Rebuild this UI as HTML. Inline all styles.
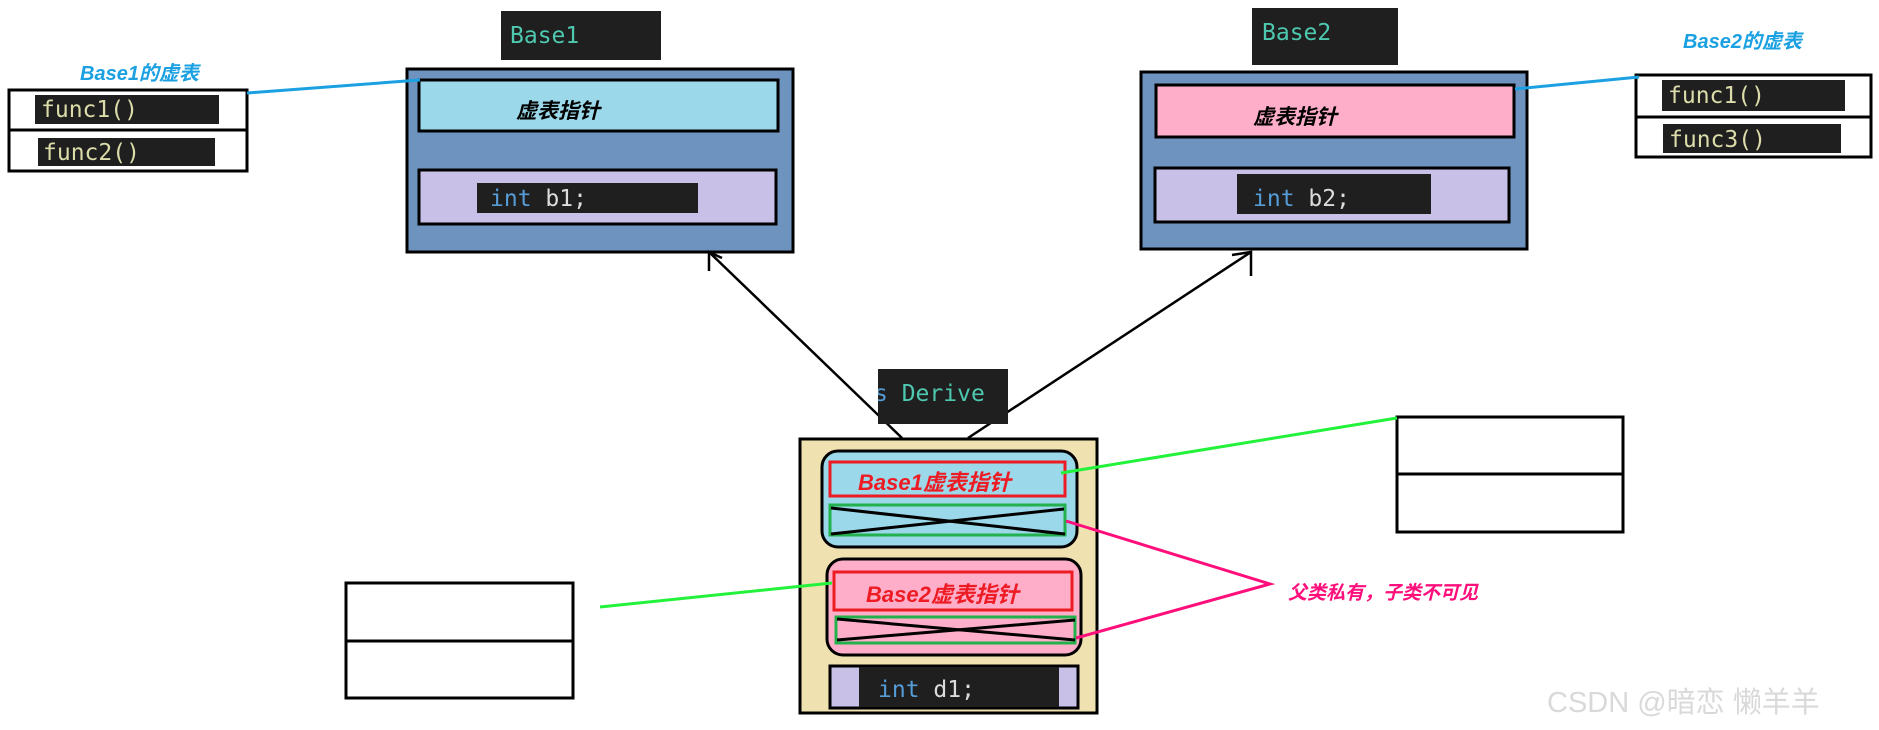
<!DOCTYPE html>
<html><head><meta charset="utf-8"><style>
html,body{margin:0;padding:0;background:#fff;width:1879px;height:730px;overflow:hidden}
svg{display:block}
.m{font-family:"DejaVu Sans Mono","Liberation Mono",monospace;font-size:23px}
.c{font-family:"Liberation Sans","Noto Sans CJK SC",sans-serif;font-weight:bold;font-style:italic}
</style></head><body>
<svg width="1879" height="730" viewBox="0 0 1879 730" xmlns="http://www.w3.org/2000/svg">
<!-- Base1 -->
<rect x="501" y="11" width="160" height="49" fill="#1f1f1f"/>
<text x="510" y="43" class="m" fill="#4ec9b0">Base1</text>
<rect x="407" y="69" width="386" height="183" fill="#6f93bf" stroke="#000" stroke-width="3"/>
<rect x="419" y="80" width="359" height="51" fill="#9bd9ea" stroke="#000" stroke-width="3"/>
<text x="516" y="118" class="c" font-size="21" fill="#000">虚表指针</text>
<rect x="419" y="170" width="357" height="54" fill="#c8c0e6" stroke="#000" stroke-width="3"/>
<rect x="477" y="183" width="221" height="30" fill="#1f1f1f"/>
<text x="490" y="206" class="m"><tspan fill="#569cd6">int</tspan><tspan fill="#dcdcdc"> b1;</tspan></text>
<!-- Base1 vtable -->
<rect x="9" y="90" width="238" height="81" fill="#fff" stroke="#000" stroke-width="3"/>
<line x1="9" y1="130" x2="247" y2="130" stroke="#000" stroke-width="3"/>
<rect x="35" y="95" width="184" height="29" fill="#1f1f1f"/>
<text x="41" y="117" class="m" fill="#dcdcaa">func1()</text>
<rect x="38" y="138" width="177" height="28" fill="#1f1f1f"/>
<text x="43" y="160" class="m" fill="#dcdcaa">func2()</text>
<text x="80" y="80" class="c" font-size="20" fill="#1ba1e2">Base1的虚表</text>
<line x1="247" y1="93" x2="420" y2="80" stroke="#1ba1e2" stroke-width="3"/>
<!-- Base2 -->
<rect x="1252" y="8" width="146" height="57" fill="#1f1f1f"/>
<text x="1262" y="40" class="m" fill="#4ec9b0">Base2</text>
<rect x="1141" y="72" width="386" height="177" fill="#6f93bf" stroke="#000" stroke-width="3"/>
<rect x="1156" y="85" width="358" height="52" fill="#ffaec9" stroke="#000" stroke-width="3"/>
<text x="1253" y="124" class="c" font-size="21" fill="#000">虚表指针</text>
<rect x="1155" y="168" width="354" height="54" fill="#c8c0e6" stroke="#000" stroke-width="3"/>
<rect x="1237" y="174" width="194" height="40" fill="#1f1f1f"/>
<text x="1253" y="206" class="m"><tspan fill="#569cd6">int</tspan><tspan fill="#dcdcdc"> b2;</tspan></text>
<!-- Base2 vtable -->
<rect x="1636" y="75" width="235" height="82" fill="#fff" stroke="#000" stroke-width="3"/>
<line x1="1636" y1="117" x2="1871" y2="117" stroke="#000" stroke-width="3"/>
<rect x="1662" y="80" width="183" height="31" fill="#1f1f1f"/>
<text x="1668" y="103" class="m" fill="#dcdcaa">func1()</text>
<rect x="1663" y="124" width="178" height="29" fill="#1f1f1f"/>
<text x="1669" y="147" class="m" fill="#dcdcaa">func3()</text>
<text x="1683" y="48" class="c" font-size="20" fill="#1ba1e2">Base2的虚表</text>
<line x1="1515" y1="89" x2="1639" y2="77" stroke="#1ba1e2" stroke-width="3"/>
<!-- arrows -->
<g stroke="#000" stroke-width="2.5" fill="none">
<line x1="902" y1="438" x2="709" y2="252"/>
<polyline points="722,258 709,252 709,271"/>
<line x1="968" y1="438" x2="1251" y2="252"/>
<polyline points="1232,255 1251,252 1251,276"/>
</g>
<!-- Derive label -->
<rect x="878" y="369" width="130" height="55" fill="#1f1f1f"/>
<svg x="878" y="369" width="130" height="55"><text x="-4" y="32" class="m" fill="#4ec9b0"><tspan fill="#569cd6">s</tspan> Derive</text></svg>
<!-- Derive box -->
<rect x="800" y="439" width="297" height="274" fill="#efe2b0" stroke="#000" stroke-width="3"/>
<rect x="822" y="451" width="255" height="96" rx="16" fill="#9bd9ea" stroke="#000" stroke-width="3"/>
<rect x="830" y="462" width="235" height="34" fill="none" stroke="#ed1c24" stroke-width="3"/>
<text x="858" y="490" class="c" font-size="22" fill="#ed1c24">Base1虚表指针</text>
<rect x="830" y="505" width="235" height="30" fill="none" stroke="#22b14c" stroke-width="3"/>
<line x1="831" y1="508" x2="1065" y2="534" stroke="#000" stroke-width="3"/>
<line x1="831" y1="534" x2="1064" y2="509" stroke="#000" stroke-width="3"/>
<rect x="827" y="559" width="254" height="96" rx="16" fill="#ffaec9" stroke="#000" stroke-width="3"/>
<rect x="834" y="572" width="238" height="38" fill="none" stroke="#ed1c24" stroke-width="3"/>
<text x="866" y="602" class="c" font-size="22" fill="#ed1c24">Base2虚表指针</text>
<rect x="836" y="617" width="239" height="26" fill="none" stroke="#22b14c" stroke-width="3"/>
<line x1="837" y1="619" x2="1075" y2="640" stroke="#000" stroke-width="3"/>
<line x1="837" y1="640" x2="1075" y2="620" stroke="#000" stroke-width="3"/>
<rect x="830" y="666" width="248" height="42" fill="#c8c0e6" stroke="#000" stroke-width="3"/>
<rect x="859" y="667" width="200" height="40" fill="#1f1f1f"/>
<text x="878" y="697" class="m"><tspan fill="#569cd6">int</tspan><tspan fill="#dcdcdc"> d1;</tspan></text>
<!-- empty boxes -->
<rect x="1397" y="417" width="226" height="115" fill="#fff" stroke="#000" stroke-width="3"/>
<line x1="1397" y1="474" x2="1623" y2="474" stroke="#000" stroke-width="3"/>
<rect x="346" y="583" width="227" height="115" fill="#fff" stroke="#000" stroke-width="3"/>
<line x1="346" y1="641" x2="573" y2="641" stroke="#000" stroke-width="3"/>
<!-- green / magenta -->
<line x1="1061" y1="473" x2="1397" y2="418" stroke="#22f23a" stroke-width="3"/>
<line x1="600" y1="607" x2="832" y2="583" stroke="#22f23a" stroke-width="3"/>
<polyline points="1066,521 1270,584 1076,638" fill="none" stroke="#ff0f7b" stroke-width="3"/>
<text x="1288" y="599" class="c" font-size="19" fill="#ff0f7b">父类私有，子类不可见</text>
<!-- watermark -->
<text x="1547" y="712" font-family="Liberation Sans,'Noto Sans CJK SC',sans-serif" font-size="29" fill="#d9d9d9">CSDN @暗恋 懒羊羊</text>
</svg>
</body></html>
